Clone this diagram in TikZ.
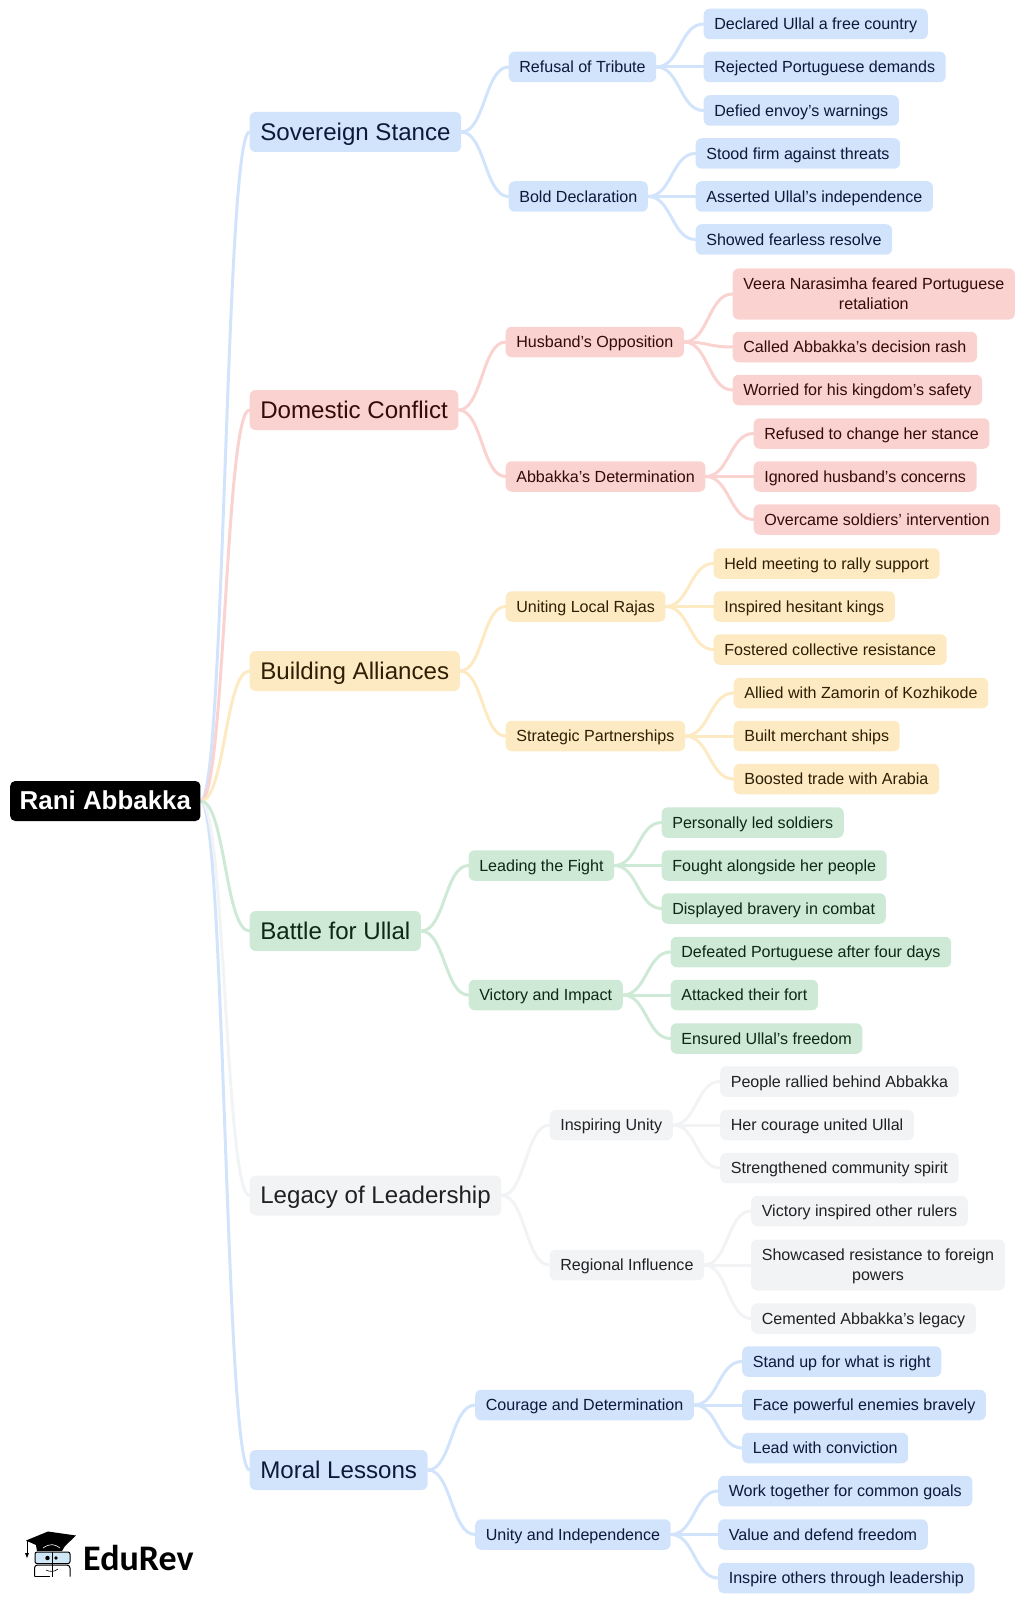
\documentclass[tikz,border=0pt]{standalone}
\usepackage{fontspec}
\setmainfont{Liberation Sans}
\newfontfamily\logofont{Carlito}
\usetikzlibrary{calc,backgrounds}
\definecolor{bf}{HTML}{D2E3FC}\definecolor{bt}{HTML}{0B1A3A}
\definecolor{rf}{HTML}{FAD2CF}\definecolor{rt}{HTML}{330B08}
\definecolor{yf}{HTML}{FEEAC2}\definecolor{yt}{HTML}{2E1F04}
\definecolor{gf}{HTML}{CEEAD6}\definecolor{gt}{HTML}{0C2914}
\definecolor{nf}{HTML}{F1F3F4}\definecolor{nt}{HTML}{202124}
\definecolor{gl}{HTML}{CFE6F5}
\newcommand{\vst}{\rule[-.23\baselineskip]{0pt}{\baselineskip}}
\tikzset{
 bx/.style={anchor=west,rounded corners=6pt,inner xsep=10.6pt,inner ysep=5pt,align=center},
 lv1/.style={bx,font=\fontsize{24.1}{30}\selectfont},
 lv2/.style={bx,font=\fontsize{16.08}{20.5}\selectfont},
 rootbox/.style={bx,fill=black,text=white,inner ysep=4.5pt,inner xsep=9.5pt,rounded corners=5pt,font=\fontsize{25.9}{31}\selectfont\bfseries},
 bb/.style={fill=bf,text=bt},rr/.style={fill=rf,text=rt},yy/.style={fill=yf,text=yt},gg/.style={fill=gf,text=gt},nn/.style={fill=nf,text=nt},
 lk/.style={line width=3pt,line cap=round},
}
\newcommand{\A}[5]{\node[lv1,#2] (#1) at (#3pt,-#4pt) {\vst #5};}
\newcommand{\B}[5]{\node[lv2,#2] (#1) at (#3pt,-#4pt) {\vst #5};}
\newcommand{\lnk}[3]{\draw[lk,#1] (#2.east) .. controls ($(#2.east)!0.5!(#3.west |- #2.east)$) and ($(#3.west)!0.5!(#2.east |- #3.west)$) .. (#3.west);}
\begin{document}
\begin{tikzpicture}[x=1pt,y=1pt]
\useasboundingbox (0,0) rectangle (1024,-1602);
\node[rootbox] (root) at (10,-801) {\vst Rani Abbakka};
% Sovereign Stance
\A{s}{bb}{249.5}{132}{Sovereign Stance}
\B{s1}{bb}{508.5}{67}{Refusal of Tribute}
\B{s2}{bb}{508.5}{196.5}{Bold Declaration}
\B{s11}{bb}{703.5}{24}{Declared Ullal a free country}
\B{s12}{bb}{703.5}{67}{Rejected Portuguese demands}
\B{s13}{bb}{703.5}{110.5}{Defied envoy’s warnings}
\B{s21}{bb}{695.5}{153.5}{Stood firm against threats}
\B{s22}{bb}{695.5}{196.5}{Asserted Ullal’s independence}
\B{s23}{bb}{695.5}{239.5}{Showed fearless resolve}
% Domestic Conflict
\A{d}{rr}{249.5}{410}{Domestic Conflict}
\B{d1}{rr}{505.5}{342}{Husband’s Opposition}
\B{d2}{rr}{505.5}{476.5}{Abbakka’s Determination}
\B{d11}{rr}{732.5}{294}{Veera Narasimha feared Portuguese\\\vst retaliation}
\B{d12}{rr}{732.5}{347}{Called Abbakka’s decision rash}
\B{d13}{rr}{732.5}{390}{Worried for his kingdom’s safety}
\B{d21}{rr}{753.5}{433.5}{Refused to change her stance}
\B{d22}{rr}{753.5}{476.5}{Ignored husband’s concerns}
\B{d23}{rr}{753.5}{519.5}{Overcame soldiers’ intervention}
% Building Alliances
\A{a}{yy}{249.5}{671}{Building Alliances}
\B{a1}{yy}{505.5}{606.5}{Uniting Local Rajas}
\B{a2}{yy}{505.5}{736}{Strategic Partnerships}
\B{a11}{yy}{713.5}{563.5}{Held meeting to rally support}
\B{a12}{yy}{713.5}{606.5}{Inspired hesitant kings}
\B{a13}{yy}{713.5}{649.5}{Fostered collective resistance}
\B{a21}{yy}{733.5}{693}{Allied with Zamorin of Kozhikode}
\B{a22}{yy}{733.5}{736}{Built merchant ships}
\B{a23}{yy}{733.5}{779}{Boosted trade with Arabia}
% Battle for Ullal
\A{u}{gg}{249.5}{931}{Battle for Ullal}
\B{u1}{gg}{468.5}{865.5}{Leading the Fight}
\B{u2}{gg}{468.5}{995}{Victory and Impact}
\B{u11}{gg}{661.5}{822.5}{Personally led soldiers}
\B{u12}{gg}{661.5}{865.5}{Fought alongside her people}
\B{u13}{gg}{661.5}{908.5}{Displayed bravery in combat}
\B{u21}{gg}{670.5}{952}{Defeated Portuguese after four days}
\B{u22}{gg}{670.5}{995}{Attacked their fort}
\B{u23}{gg}{670.5}{1038.5}{Ensured Ullal’s freedom}
% Legacy of Leadership
\A{g}{nn}{249.5}{1195.5}{Legacy of Leadership}
\B{g1}{nn}{549.5}{1125}{Inspiring Unity}
\B{g2}{nn}{549.5}{1265}{Regional Influence}
\B{g11}{nn}{720}{1081.5}{People rallied behind Abbakka}
\B{g12}{nn}{720}{1125}{Her courage united Ullal}
\B{g13}{nn}{720}{1168}{Strengthened community spirit}
\B{g21}{nn}{751}{1211}{Victory inspired other rulers}
\B{g22}{nn}{751}{1265}{Showcased resistance to foreign\\\vst powers}
\B{g23}{nn}{751}{1318.5}{Cemented Abbakka’s legacy}
% Moral Lessons
\A{m}{bb}{249.5}{1470}{Moral Lessons}
\B{m1}{bb}{475}{1405}{Courage and Determination}
\B{m2}{bb}{475}{1534.5}{Unity and Independence}
\B{m11}{bb}{742}{1361.5}{Stand up for what is right}
\B{m12}{bb}{742}{1405}{Face powerful enemies bravely}
\B{m13}{bb}{742}{1448}{Lead with conviction}
\B{m21}{bb}{718}{1491}{Work together for common goals}
\B{m22}{bb}{718}{1534.5}{Value and defend freedom}
\B{m23}{bb}{718}{1578}{Inspire others through leadership}
\begin{scope}[on background layer]
\lnk{bf}{root}{s}
\lnk{bf}{root}{m}
\lnk{rf}{root}{d}
\lnk{yf}{root}{a}
\lnk{nf}{root}{g}
\lnk{gf}{root}{u}
\foreach \p/\c in {s/bf,d/rf,a/yf,u/gf,g/nf,m/bf}{
 \lnk{\c}{\p}{\p1}\lnk{\c}{\p}{\p2}
 \foreach \q in {1,2}{\foreach \r in {1,2,3}{\lnk{\c}{\p\q}{\p\q\r}}}
}
\end{scope}
% EduRev logo
\fill[black] (26,-1540.5) -- (48,-1531.5) -- (76,-1535.5) -- (65,-1546) -- (62,-1551) -- (37,-1551) -- (36,-1545) -- cycle;
\draw[white,line width=.6pt] (43,-1548) .. controls (50,-1543) and (55,-1544) .. (60,-1548);
\draw[black,line width=1pt] (27,-1541) -- (27,-1553);
\fill[black] (25,-1553) -- (29,-1553) -- (27,-1558) -- cycle;
\draw[black,line width=1pt,fill=gl,rounded corners=2pt] (35,-1552) rectangle (70,-1563.5);
\draw[black,line width=1pt,rounded corners=3pt] (34.5,-1576.5) -- (34.5,-1565) -- (70,-1565) -- (70,-1576.5);
\draw[black,line width=1pt] (34.5,-1576.5) -- (50,-1576.5) (52,-1552) -- (52,-1577);
\draw[black,line width=.6pt] (46,-1570) .. controls (50,-1572) and (54,-1572) .. (58,-1569);
\fill[black] (47.5,-1558) circle (2.2pt) (56,-1558) circle (1.8pt);
\node[anchor=base west,inner sep=0pt,font=\logofont\bfseries\fontsize{36}{36}\selectfont] (logo) at (83,-1570) {EduRev};
\end{tikzpicture}
\end{document}
